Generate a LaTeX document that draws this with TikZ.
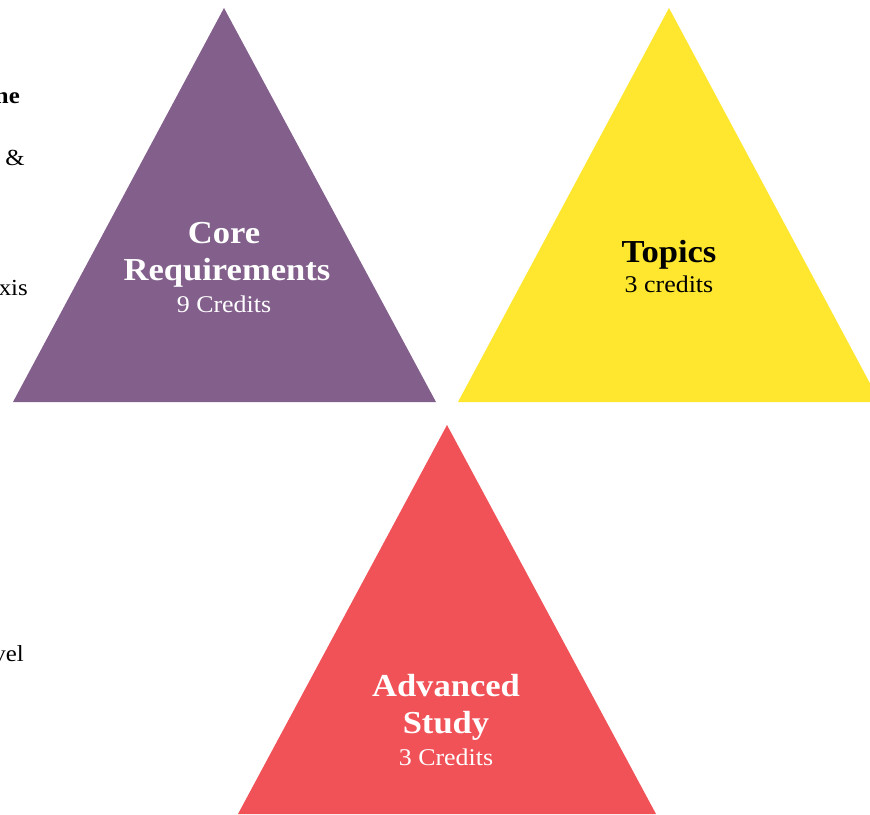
\documentclass[tikz,border=0pt]{standalone}
\usepackage{fontspec}
\setmainfont[FakeStretch=1.08]{Liberation Serif}
\definecolor{cpurple}{HTML}{83608C}
\definecolor{cyellow}{HTML}{FEE72E}
\definecolor{cred}{HTML}{F05257}
\begin{document}
\begin{tikzpicture}[x=1pt,y=-1pt,
  big/.style={font=\fontsize{32}{32}\selectfont\bfseries, anchor=base, inner sep=0pt},
  small/.style={font=\fontsize{24}{24}\selectfont, anchor=base, inner sep=0pt},
  edge/.style={font=\fontsize{23}{23}\selectfont, anchor=base east, inner sep=0pt}]
\useasboundingbox (0,0) rectangle (870,814);
\clip (0,0) rectangle (870,814);
\fill[cpurple] (224,8) -- (436,402) -- (13,402) -- cycle;
\fill[cyellow] (669,8) -- (880,402) -- (458,402) -- cycle;
\fill[cred] (447,425) -- (656,814) -- (238,814) -- cycle;
% Core
\node[big, white] (c1) at (224,243) {Core};
\node[big, white] (c2) at (227,280) {Requirements};
\node[small, white] (c3) at (224,312) {9 Credits};
% Topics
\node[big, black] (t1) at (669,262) {Topics};
\node[small, black] (t2) at (669,292) {3 credits};
% Advanced
\node[big, white] (a1) at (446,696) {Advanced};
\node[big, white] (a2) at (446,733) {Study};
\node[small, white] (a3) at (446,765) {3 Credits};
% side text cut by the left edge
\node[edge, font=\fontsize{23}{23}\selectfont\bfseries] (e1) at (20,103) {ne};
\node[edge] (e2) at (25,165) {\&};
\node[edge] (e3) at (28,295) {xis};
\node[edge] (e4) at (24,661) {vel};
\end{tikzpicture}
\end{document}
